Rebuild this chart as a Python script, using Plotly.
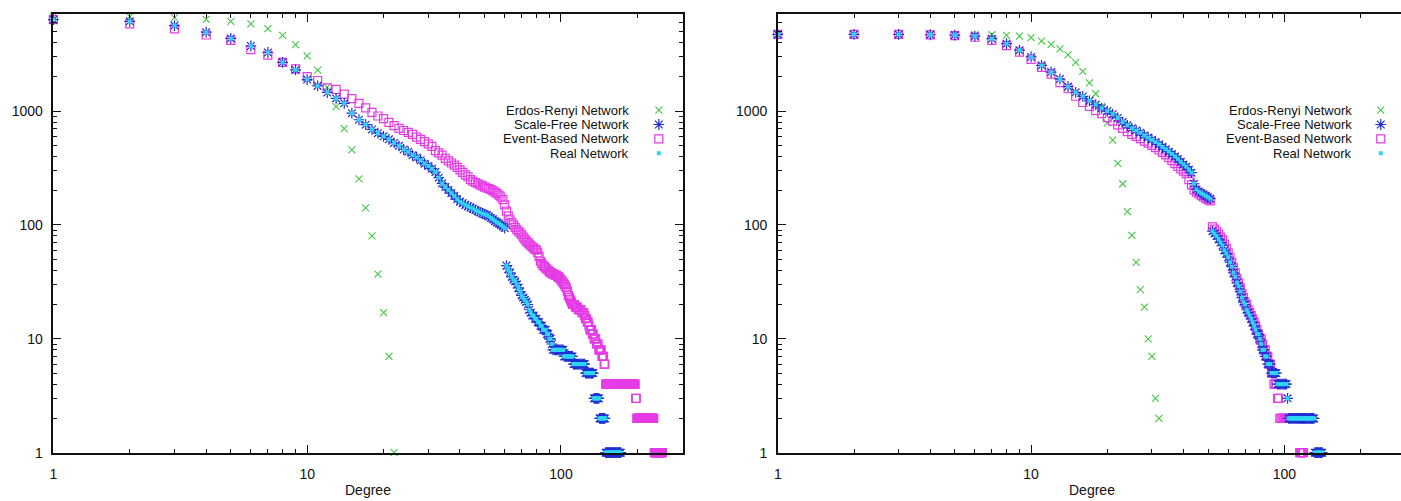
import plotly.graph_objects as go

W, H = 1401, 501

# ---------------- data: number of nodes with degree >= k, for k = 1, 2, 3, ... ----------------
er_left = [6760, 6745, 6610, 6390, 6130, 5830, 5310, 4620, 3840, 3060,
           2290, 1620, 1096, 701, 456, 254, 141, 80, 37, 17,
           7, 1]

sf_left = [6350, 6140, 5640, 4930, 4350, 3730, 3270, 2680, 2300, 1890,
           1665, 1456, 1292, 1169, 959, 839, 760, 690, 640, 600,
           565, 525, 495, 460, 440, 410, 392, 370, 345, 330,
           312, 291, 260, 232, 215, 203, 190, 180, 168, 160,
           155, 150, 146, 142, 139, 135, 132, 129, 126, 124,
           122, 119, 115, 112, 108, 105, 103, 100, 97, 94,
           44, 41, 38, 35, 33, 32, 30, 28, 26, 24,
           23, 22, 21, 20, 18, 17, 16, 16, 15, 15,
           14, 14, 13, 13, 12, 12, 12, 11, 11, 10,
           10, 9, 8, 8, 8, 8, 8, 8, 8, 8,
           8, 8, 7, 7, 7, 7, 7, 7, 7, 7,
           7, 6, 6, 6, 6, 6, 6, 6, 6, 6,
           6, 6, 6, 6, 5, 5, 5, 5, 5, 5,
           5, 5, 5, 5, 3, 3, 3, 3, 3, 3,
           3, 2, 2, 2, 2, 2, 2, 2, 2, 1,
           1, 1, 1, 1, 1, 1, 1, 1, 1, 1,
           1, 1, 1, 1, 1, 1, 1, 1, 1, 1,
           1, 1]

eb_left = [6350, 5830, 5270, 4660, 4170, 3470, 3100, 2680, 2350, 2010,
           1855, 1600, 1550, 1410, 1285, 1170, 1065, 975, 905, 860,
           795, 745, 705, 675, 650, 625, 590, 565, 540, 515,
           490, 450, 430, 410, 385, 365, 350, 335, 320, 305,
           290, 275, 265, 250, 242, 236, 230, 225, 220, 215,
           211, 208, 204, 199, 194, 189, 183, 176, 167, 150,
           132, 120, 111, 105, 100, 95, 91, 88, 85, 82,
           78, 75, 72, 70, 68, 66, 64, 63, 61, 60,
           57, 53, 48, 46, 44, 43, 42, 41, 40, 39,
           38, 38, 37, 37, 36, 36, 35, 35, 34, 33,
           32, 31, 30, 29, 28, 26, 24, 23, 22, 21,
           20, 20, 20, 19, 19, 19, 18, 18, 18, 18,
           17, 17, 17, 16, 15, 15, 14, 14, 13, 12,
           12, 12, 11, 11, 10, 10, 10, 9, 9, 9,
           8, 8, 8, 8, 7, 7, 7, 6, 6, 4,
           4, 4, 4, 4, 4, 4, 4, 4, 4, 4,
           4, 4, 4, 4, 4, 4, 4, 4, 4, 4,
           4, 4, 4, 4, 4, 4, 4, 4, 4, 4,
           4, 4, 4, 4, 4, 4, 4, 4, 4, 4,
           4, 4, 4, 4, 4, 4, 3, 3, 2, 2,
           2, 2, 2, 2, 2, 2, 2, 2, 2, 2,
           2, 2, 2, 2, 2, 2, 2, 2, 2, 2,
           2, 2, 2, 2, 2, 2, 2, 2, 2, 2,
           2, 2, 1, 1, 1, 1, 1, 1, 1, 1,
           1, 1, 1, 1, 1, 1, 1, 1, 1, 1,
           1]

real_left = [6350, 6140, 5640, 4930, 4350, 3730, 3270, 2680, 2300, 1890,
             1665, 1456, 1292, 1169, 959, 839, 760, 690, 640, 600,
             565, 525, 495, 460, 440, 410, 392, 370, 345, 330,
             312, 291, 260, 232, 215, 203, 190, 180, 168, 160,
             155, 150, 146, 142, 139, 135, 132, 129, 126, 124,
             122, 119, 115, 112, 108, 105, 103, 100, 97, 94,
             44, 41, 38, 35, 33, 32, 30, 28, 26, 24,
             23, 22, 21, 20, 18, 17, 16, 16, 15, 15,
             14, 14, 13, 13, 12, 12, 12, 11, 11, 10,
             10, 9, 8, 8, 8, 8, 8, 8, 8, 8,
             8, 8, 7, 7, 7, 7, 7, 7, 7, 7,
             7, 6, 6, 6, 6, 6, 6, 6, 6, 6,
             6, 6, 6, 6, 5, 5, 5, 5, 5, 5,
             5, 5, 5, 5, 3, 3, 3, 3, 3, 3,
             3, 2, 2, 2, 2, 2, 2, 2, 2, 1,
             1, 1, 1, 1, 1, 1, 1, 1, 1, 1,
             1, 1, 1, 1, 1, 1, 1, 1, 1, 1,
             1, 1]

er_right = [4710, 4710, 4710, 4705, 4700, 4690, 4680, 4620, 4550, 4410,
            4120, 3850, 3520, 3110, 2680, 2230, 1770, 1420, 1100, 786,
            555, 347, 230, 131, 81, 47, 27, 19, 10, 7,
            3, 2]

sf_right = [4710, 4710, 4710, 4680, 4640, 4550, 4320, 3910, 3430, 2990,
            2520, 2200, 1910, 1640, 1460, 1345, 1230, 1140, 1060, 1000,
            940, 870, 800, 750, 705, 675, 645, 610, 585, 560,
            535, 510, 485, 462, 440, 420, 400, 380, 358, 340,
            325, 305, 288, 230, 205, 196, 190, 185, 180, 175,
            170, 88, 84, 80, 75, 70, 66, 60, 56, 52,
            47, 43, 38, 35, 31, 29, 26, 23, 21, 20,
            18, 17, 16, 15, 14, 13, 12, 11, 11, 10,
            9, 8, 8, 7, 7, 6, 6, 6, 5, 5,
            5, 5, 5, 4, 4, 4, 4, 4, 4, 4,
            4, 4, 3, 2, 2, 2, 2, 2, 2, 2,
            2, 2, 2, 2, 2, 2, 2, 2, 2, 2,
            2, 2, 2, 2, 2, 2, 2, 2, 2, 2,
            2, 1, 1, 1, 1, 1, 1, 1, 1, 1,
            1]

eb_right = [4710, 4710, 4710, 4670, 4600, 4450, 4170, 3750, 3300, 2850,
            2420, 2110, 1780, 1570, 1350, 1190, 1100, 1010, 950, 875,
            815, 755, 705, 660, 625, 598, 572, 545, 522, 500,
            478, 455, 433, 412, 390, 367, 345, 326, 311, 297,
            282, 250, 225, 203, 194, 187, 181, 176, 171, 167,
            163, 96, 92, 88, 83, 78, 74, 68, 62, 57,
            52, 47, 42, 38, 34, 31, 28, 25, 23, 21,
            20, 18, 17, 16, 15, 14, 13, 12, 11, 10,
            10, 9, 8, 8, 7, 7, 6, 6, 5, 5,
            4, 4, 4, 3, 3, 2, 2, 2, 2, 2,
            2, 2, 2, 2, 2, 2, 2, 2, 2, 2,
            2, 2, 2, 2, 1, 1, 1, 1, 1]

real_right = [4710, 4710, 4710, 4680, 4640, 4550, 4320, 3910, 3430, 2990,
              2520, 2200, 1910, 1640, 1460, 1345, 1230, 1140, 1060, 1000,
              940, 870, 800, 750, 705, 675, 645, 610, 585, 560,
              535, 510, 485, 462, 440, 420, 400, 380, 358, 340,
              325, 305, 288, 230, 205, 196, 190, 185, 180, 175,
              170, 88, 84, 80, 75, 70, 66, 60, 56, 52,
              47, 43, 38, 35, 31, 29, 26, 23, 21, 20,
              18, 17, 16, 15, 14, 13, 12, 11, 11, 10,
              9, 8, 8, 7, 7, 6, 6, 6, 5, 5,
              5, 5, 5, 4, 4, 4, 4, 4, 4, 4,
              4, 4, 3, 2, 2, 2, 2, 2, 2, 2,
              2, 2, 2, 2, 2, 2, 2, 2, 2, 2,
              2, 2, 2, 2, 2, 2, 2, 2, 2, 2,
              2, 1, 1, 1, 1, 1, 1, 1, 1, 1,
              1]

series_names = ["Erdos-Renyi Network", "Scale-Free Network",
                "Event-Based Network", "Real Network"]
left_series = [er_left, sf_left, eb_left, real_left]
right_series = [er_right, sf_right, eb_right, real_right]
draw_order = [0, 2, 1, 3]   # magenta squares sit underneath the blue stars

x_tick_vals = [1, 10, 100]
x_tick_text = ["1", "10", "100"]
x_minor_vals = [2, 3, 4, 5, 6, 7, 8, 9, 20, 30, 40, 50, 60, 70, 80, 90, 200, 300]
y_tick_vals = [1, 10, 100, 1000]
y_tick_text = ["1", "10", "100", "1000"]
y_minor_vals = [2, 3, 4, 5, 6, 7, 8, 9, 20, 30, 40, 50, 60, 70, 80, 90,
                200, 300, 400, 500, 600, 700, 800, 900,
                2000, 3000, 4000, 5000, 6000, 7000]
x_label = "Degree"

# ---------------- styling ----------------
FONT = "Liberation Sans, Arial, Helvetica, sans-serif"
INK = "#111111"
GREEN = "#44c844"
BLUE = "#1f2fd0"
MAGENTA = "#e53be5"
CYAN = "#2fd4f4"

marker_styles = [
    dict(symbol="x-thin", size=7, color=GREEN, line=dict(width=1.1, color=GREEN)),
    dict(symbol="asterisk", size=9, color=BLUE, line=dict(width=1.2, color=BLUE)),
    dict(symbol="square-open", size=8, color=MAGENTA, line=dict(width=1.2, color=MAGENTA)),
    dict(symbol="square", size=4, color=CYAN, line=dict(width=0)),
]

fig = go.Figure()

for xa, ya, data in (("x", "y", left_series), ("x2", "y2", right_series)):
    for i in draw_order:
        vals = data[i]
        fig.add_trace(go.Scatter(
            x=list(range(1, len(vals) + 1)), y=vals, mode="markers", name=series_names[i],
            marker=marker_styles[i], xaxis=xa, yaxis=ya, cliponaxis=False,
            showlegend=False, hoverinfo="skip"))

# legend keys (gnuplot style: right-aligned text, sample to the right), on a full-figure pixel axis
legend_rows_y = [111.9, 126.5, 141.1, 155.7]
legend_text_right = [628, 1353]
legend_key_x = [656.7, 1380.7]
for tx, kx in zip(legend_text_right, legend_key_x):
    for name, ry, ms in zip(series_names, legend_rows_y, marker_styles):
        fig.add_trace(go.Scatter(x=[kx], y=[ry], mode="markers", marker=ms,
                                 xaxis="x3", yaxis="y3", cliponaxis=False,
                                 showlegend=False, hoverinfo="skip"))
        fig.add_annotation(x=tx / W, y=1 - ry / H, xref="paper", yref="paper", text=name,
                           showarrow=False, xanchor="right", yanchor="middle", borderpad=0,
                           font=dict(family=FONT, size=13, color=INK))

for cx in (365.5, 1091):
    fig.add_annotation(x=cx / W, y=1 - 488.3 / H, xref="paper", yref="paper", text=x_label,
                       showarrow=False, xanchor="center", yanchor="top", borderpad=0,
                       font=dict(family=FONT, size=14, color=INK))

def xaxis_cfg(domain, rng):
    return dict(type="log", domain=domain, range=rng, showline=True, linecolor=INK,
                linewidth=1.5, mirror="ticks", ticks="inside", ticklen=8, tickwidth=1.2,
                tickcolor=INK, tickmode="array", tickvals=x_tick_vals, ticktext=x_tick_text,
                minor=dict(ticks="inside", ticklen=4, tickwidth=1.2, tickcolor=INK,
                           tickmode="array", tickvals=x_minor_vals),
                showgrid=False, zeroline=False, ticklabelstandoff=8,
                tickfont=dict(family=FONT, size=14, color=INK))

def yaxis_cfg(domain, rng, mirror):
    return dict(type="log", domain=domain, range=rng, showline=True, linecolor=INK,
                linewidth=1.5, mirror=mirror, ticks="inside", ticklen=8, tickwidth=1.2,
                tickcolor=INK, tickmode="array", tickvals=y_tick_vals, ticktext=y_tick_text,
                minor=dict(ticks="inside", ticklen=4, tickwidth=1.2, tickcolor=INK,
                           tickmode="array", tickvals=y_minor_vals),
                showgrid=False, zeroline=False, ticklabelstandoff=6,
                tickfont=dict(family=FONT, size=14, color=INK))

ydom = [(H - 460) / H, (H - 14.3) / H]
yrng = [0, 3.852]

fig.update_layout(
    width=W, height=H, margin=dict(l=0, r=0, t=0, b=0),
    paper_bgcolor="white", plot_bgcolor="rgba(0,0,0,0)", showlegend=False,
    xaxis=dict(xaxis_cfg([49.5 / W, 681 / W], [0, 2.481]), anchor="y"),
    yaxis=dict(yaxis_cfg(ydom, yrng, "ticks"), anchor="x"),
    xaxis2=dict(xaxis_cfg([776 / W, 1.0], [0, (W - 776) / 254.0]), anchor="y2"),
    yaxis2=dict(yaxis_cfg(ydom, yrng, False), anchor="x2"),
    xaxis3=dict(domain=[0, 1], range=[0, W], visible=False, anchor="y3", fixedrange=True),
    yaxis3=dict(domain=[0, 1], range=[H, 0], visible=False, anchor="x3", fixedrange=True),
)

fig.write_html("out.html")
